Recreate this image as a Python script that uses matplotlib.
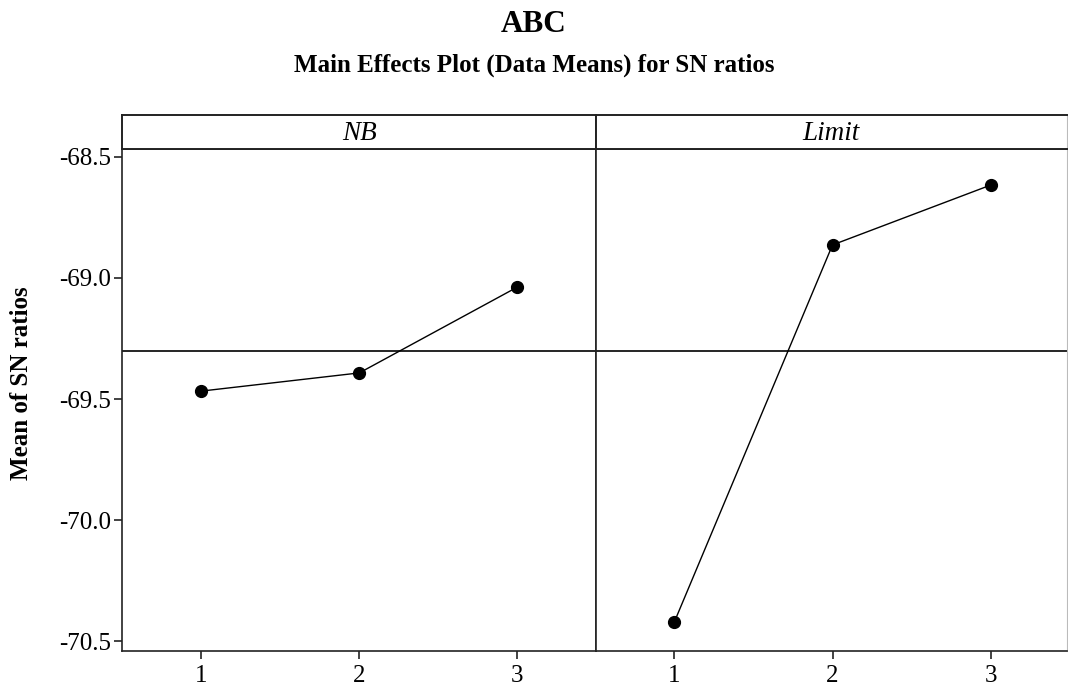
import matplotlib
matplotlib.use("Agg")
import matplotlib.pyplot as plt
import numpy as np

plt.rcParams['font.family'] = ['Liberation Serif', 'DejaVu Serif']

# data
levels = [1, 2, 3]
factors = ['NB', 'Limit']
nb_means = [-69.467, -69.392, -69.038]
limit_means = [-70.420, -68.864, -68.617]
y_ticks = [-68.5, -69.0, -69.5, -70.0, -70.5]

series = [nb_means, limit_means]
grand_mean = np.mean(nb_means + limit_means)

W, H = 1068, 690
fig = plt.figure(figsize=(W / 100, H / 100), dpi=100)

# panel geometry in pixels (left, right)
panels = [(122.3, 596.3), (596.3, 1066.5)]
xlims = [(0.5, 3.5), (0.507, 3.479)]
data_top, data_bottom = 148.7, 650.7
header_top = 114.7

for i, (x0, x1) in enumerate(panels):
    ax = fig.add_axes([x0 / W, 1 - data_bottom / H, (x1 - x0) / W, (data_bottom - data_top) / H])
    ax.plot(levels, series[i], color='black', lw=1.0, marker='o', ms=8.5,
            markerfacecolor='black', markeredgecolor='black')
    ax.axhline(grand_mean, color='black', lw=1.2)
    ax.set_xlim(*xlims[i])
    ax.set_ylim(-70.538, -68.467)
    ax.set_xticks(levels)
    ax.set_xticklabels([str(l) for l in levels], fontsize=18)
    ax.tick_params(axis='both', direction='out', length=5.5, width=1.2, color='#222222')
    ax.tick_params(axis='x', pad=5)
    ax.tick_params(axis='y', pad=2.5)
    for s in ax.spines.values():
        s.set_linewidth(1.2)
        s.set_color('#222222')
    if i == 0:
        ax.set_yticks(y_ticks)
        ax.set_yticklabels(['%.1f' % t for t in y_ticks], fontsize=18)
    else:
        ax.set_yticks([])
        ax.spines['right'].set_color('#bbbbbb')
        ax.spines['right'].set_linewidth(0.8)

    # strip header with the factor name
    hx = fig.add_axes([x0 / W, 1 - data_top / H, (x1 - x0) / W, (data_top - header_top) / H])
    hx.set_xticks([])
    hx.set_yticks([])
    for s in hx.spines.values():
        s.set_linewidth(1.4)
        s.set_color('#222222')
    if i == 1:
        hx.spines['right'].set_color('#bbbbbb')
        hx.spines['right'].set_linewidth(0.8)
    hx.text(0.5, 0.45, factors[i], ha='center', va='center', fontsize=19.5, style='italic',
            transform=hx.transAxes)

fig.text(0.5, 1 - 31.7 / H, 'ABC', ha='center', va='baseline', fontsize=22.5, fontweight='bold')
fig.text(0.5, 1 - 72 / H, 'Main Effects Plot (Data Means) for SN ratios', ha='center',
         va='baseline', fontsize=18, fontweight='bold')
fig.text(22 / W, 1 - 383.5 / H, 'Mean of SN ratios', rotation=90, ha='center', va='center',
         fontsize=18, fontweight='bold')

fig.savefig('out.png', dpi=100)
